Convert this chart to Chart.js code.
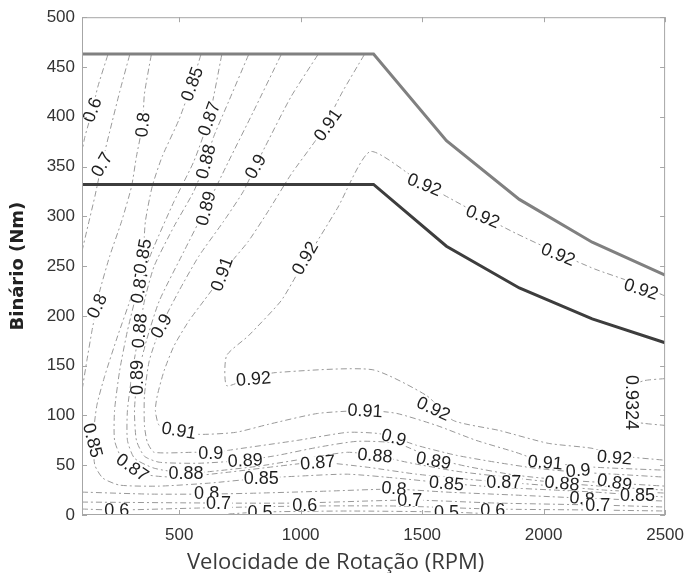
<!DOCTYPE html>
<html>
<head>
<meta charset="utf-8">
<script src="https://cdn.jsdelivr.net/npm/chart.js@4.4.1/dist/chart.umd.min.js"></script>
<style>
  html, body { margin: 0; padding: 0; background: #fff; }
  #wrap { width: 694px; height: 573px; }
</style>
</head>
<body>
<div id="wrap"><canvas id="effMap" width="694" height="573"></canvas></div>
<script>
// Efficiency map: contour lines of motor efficiency over speed (RPM) and torque (Nm),
// with the peak and rated torque envelopes on top.

const X_TICKS = [500, 1000, 1500, 2000, 2500];
const Y_TICKS = [0, 50, 100, 150, 200, 250, 300, 350, 400, 450, 500];

// torque envelopes [rpm, Nm]
const torquePeak  = [[100, 463], [1300, 463], [1600, 376], [1900, 317], [2200, 274], [2500, 241]];
const torqueRated = [[100, 332], [1300, 332], [1600, 270], [1900, 228], [2200, 197], [2500, 173]];

// contour paths [rpm, Nm]
const c0_9324 = [[2500, 137], [2415, 135], [2362, 129], [2362, 95], [2415, 92], [2500, 90]];
const c0_92 = [[2500, 220], [2374, 233], [2211, 247], [2060, 263], [1885, 283], [1750, 300], [1600, 320],
  [1490, 335], [1286, 365], [1151, 308], [988, 243], [919, 215], [785, 180], [695, 160], [695, 130],
  [785, 137], [895, 143], [1294, 146], [1518, 120], [1628, 95], [1816, 85], [2019, 72], [2199, 67],
  [2292, 60], [2500, 55]];
const c0_91 = [[1261, 462], [1172, 425], [1102, 392], [1058, 375], [960, 342], [866, 305], [785, 275],
  [711, 253], [662, 235], [601, 215], [540, 195], [479, 170], [438, 145], [410, 120], [402, 105],
  [418, 90], [499, 85], [581, 81], [732, 83], [866, 91], [1070, 102], [1274, 105], [1396, 102],
  [1559, 90], [1722, 75], [1885, 63], [2007, 53], [2211, 48], [2500, 45]];
const c0_90 = [[1070, 462], [960, 420], [854, 370], [813, 350], [764, 325], [683, 295], [581, 260],
  [499, 225], [426, 190], [377, 155], [357, 120], [357, 90], [369, 73], [397, 63], [569, 63], [630, 62],
  [703, 65], [988, 75], [1192, 83], [1314, 82], [1384, 78], [1477, 70], [1640, 60], [1803, 53],
  [1966, 47], [2142, 43], [2292, 41], [2500, 38]];
const c0_89 = [[919, 462], [805, 405], [703, 355], [609, 308], [520, 265], [418, 215], [365, 175],
  [328, 138], [316, 105], [324, 75], [357, 59], [418, 53], [581, 52], [772, 55], [907, 60], [1070, 68],
  [1233, 74], [1396, 72], [1547, 57], [1681, 49], [1885, 40], [2089, 35], [2292, 32], [2500, 29]];
const c0_88 = [[785, 462], [703, 415], [642, 380], [609, 355], [560, 325], [479, 290], [397, 250],
  [357, 215], [336, 185], [308, 145], [287, 105], [287, 75], [316, 57], [397, 47], [528, 42], [642, 44],
  [825, 49], [1029, 57], [1192, 63], [1306, 60], [1437, 53], [1640, 44], [1885, 37], [2076, 32],
  [2292, 28], [2500, 25]];
const c0_87 = [[675, 462], [622, 398], [560, 355], [479, 315], [397, 270], [336, 232], [287, 185],
  [255, 145], [234, 105], [234, 75], [263, 57], [308, 48], [377, 40], [499, 38], [703, 43], [907, 49],
  [1070, 53], [1274, 48], [1477, 41], [1681, 36], [1836, 33], [2048, 29], [2252, 25], [2500, 22]];
const c0_85 = [[589, 462], [552, 433], [499, 397], [430, 360], [389, 330], [361, 295], [349, 258],
  [304, 220], [247, 180], [194, 140], [161, 110], [145, 75], [153, 50], [186, 37], [255, 30], [418, 29],
  [622, 32], [838, 37], [988, 39], [1192, 41], [1396, 37], [1600, 32], [1803, 28], [2048, 25],
  [2211, 23], [2386, 20], [2500, 18]];
const c0_8a = [[385, 462], [357, 423], [349, 392], [324, 360], [304, 330], [263, 295], [214, 260],
  [173, 225], [161, 210], [141, 185], [120, 155], [100, 125]];
const c0_8b = [[100, 23], [377, 21], [613, 21], [825, 22], [1111, 24], [1384, 26], [1600, 23],
  [1885, 20], [2158, 17], [2500, 14]];
const c0_7a = [[296, 462], [255, 425], [214, 385], [181, 352], [153, 320], [124, 290], [100, 265]];
const c0_7b = [[100, 13], [654, 12], [988, 12], [1449, 15], [1803, 12], [2223, 10], [2500, 8]];
const c0_6a = [[206, 462], [165, 430], [141, 405], [112, 380], [100, 365]];
const c0_6b = [[100, 6], [243, 5], [581, 7], [1017, 9], [1396, 9], [1791, 6], [2211, 5], [2500, 4]];
const c0_5 = [[703, 1], [833, 3], [1192, 4], [1600, 3], [1803, 1]];

const contours = [
  [0.9324, c0_9324], [0.92, c0_92], [0.91, c0_91], [0.9, c0_90], [0.89, c0_89], [0.88, c0_88],
  [0.87, c0_87], [0.85, c0_85], [0.8, c0_8a], [0.8, c0_8b], [0.7, c0_7a], [0.7, c0_7b],
  [0.6, c0_6a], [0.6, c0_6b], [0.5, c0_5],
];

// inline labels: [level, rpm, Nm, angle in degrees]
const contourLabels = [
  [0.6, 141, 407, -70], [0.7, 181, 352, -60], [0.8, 349, 392, -85], [0.85, 552, 433, -70],
  [0.87, 622, 398, -70], [0.88, 609, 355, -75], [0.9, 813, 350, -60], [0.91, 1111, 392, -55],
  [0.89, 609, 308, -75], [0.92, 1017, 258, -60], [0.87, 336, 230, -80], [0.85, 349, 260, -80],
  [0.8, 161, 210, -65], [0.88, 336, 185, -85], [0.9, 426, 190, -60], [0.89, 328, 138, -90],
  [0.91, 675, 242, -70], [0.85, 145, 75, 75], [0.87, 308, 48, 35], [0.91, 499, 85, 10],
  [0.9, 630, 62, 0], [0.88, 528, 42, 0], [0.89, 772, 55, -3], [0.85, 838, 37, 0],
  [0.8, 613, 22, 0], [0.7, 662, 12, 0], [0.6, 243, 5, 0], [0.5, 833, 3, 0],
  [0.92, 806, 137, -5], [0.87, 1070, 53, -5], [0.6, 1017, 10, 0], [0.91, 1265, 105, 3],
  [0.9, 1384, 78, 15], [0.88, 1306, 60, 5], [0.8, 1384, 27, 5], [0.7, 1449, 15, 0],
  [0.92, 1547, 107, 25], [0.89, 1547, 55, 10], [0.85, 1600, 32, 5], [0.5, 1600, 3, 0],
  [0.87, 1836, 33, 0], [0.6, 1791, 5, 0], [0.91, 2007, 53, 5], [0.88, 2076, 32, 5],
  [0.9, 2142, 45, -5], [0.92, 2292, 58, 5], [0.8, 2158, 17, 5], [0.7, 2223, 10, 0],
  [0.89, 2292, 33, 10], [0.85, 2386, 20, 0], [0.9324, 2362, 113, 90],
  [0.92, 1510, 332, 22], [0.92, 1750, 300, 22], [0.92, 2060, 262, 22], [0.92, 2402, 227, 18],
];

const TICK_FONT = { family: "'Liberation Sans', Arial, sans-serif", size: 17 };
const toXY = pts => pts.map(([x, y]) => ({ x, y }));

const datasets = [
  { data: toXY(torqueRated), borderColor: "#3d3d3d", borderWidth: 3, tension: 0 },
  { data: toXY(torquePeak),  borderColor: "#808080", borderWidth: 3, tension: 0 },
  ...contours.map(([level, path]) => ({
    label: String(level),
    data: toXY(path),
    borderColor: "#999",
    borderWidth: 1,
    borderDash: [6, 3, 2, 3],
    tension: 0.2,
  })),
].map(d => ({ showLine: true, pointRadius: 0, fill: false, ...d }));

// ── inline contour labels (white box breaks the line underneath) ────────────
const labelPlugin = {
  id: "contourLabels",
  afterDatasetsDraw(chart) {
    const { ctx, chartArea: a, scales: { x, y } } = chart;
    ctx.save();
    ctx.beginPath();
    ctx.rect(a.left, a.top, a.width, a.height);
    ctx.clip();
    ctx.font = "18px 'Liberation Sans', Arial, sans-serif";
    ctx.textAlign = "center";
    ctx.textBaseline = "middle";
    contourLabels.forEach(([level, s, t, ang]) => {
      const txt = String(level);
      const w = ctx.measureText(txt).width;
      ctx.save();
      ctx.translate(x.getPixelForValue(s), y.getPixelForValue(t));
      ctx.rotate(ang * Math.PI / 180);
      ctx.fillStyle = "#fff";
      ctx.fillRect(-w / 2 - 1, -6, w + 2, 12);
      ctx.fillStyle = "#1e1e1e";
      ctx.fillText(txt, 0, 1);
      ctx.restore();
    });
    ctx.restore();
  },
};

// ── box frame with inward ticks, plus axis titles ───────────────────────────
const framePlugin = {
  id: "boxFrame",
  afterDraw(chart) {
    const { ctx, chartArea: a, scales: { x, y } } = chart;
    ctx.save();
    ctx.strokeStyle = "#a6a6a6";
    ctx.lineWidth = 1;
    ctx.strokeRect(a.left + 0.5, a.top + 0.5, a.width - 1, a.height - 1);
    ctx.beginPath();
    X_TICKS.forEach(v => {
      const px = Math.round(x.getPixelForValue(v)) + 0.5;
      ctx.moveTo(px, a.bottom); ctx.lineTo(px, a.bottom - 5);
      ctx.moveTo(px, a.top);    ctx.lineTo(px, a.top + 5);
    });
    Y_TICKS.forEach(v => {
      const py = Math.round(y.getPixelForValue(v)) + 0.5;
      ctx.moveTo(a.left, py);  ctx.lineTo(a.left + 5, py);
      ctx.moveTo(a.right, py); ctx.lineTo(a.right - 5, py);
    });
    ctx.stroke();

    ctx.fillStyle = "#222";
    ctx.font = "bold 18px 'DejaVu Sans', sans-serif";
    ctx.textAlign = "center";
    ctx.textBaseline = "middle";
    ctx.translate(18, (a.top + a.bottom) / 2);
    ctx.rotate(-Math.PI / 2);
    ctx.fillText("Binário (Nm)", 0, 0);
    ctx.setTransform(1, 0, 0, 1, 0, 0);

    ctx.fillStyle = "#3a3a3a";
    ctx.font = "22px 'Open Sans', sans-serif";
    ctx.textAlign = "left";
    ctx.textBaseline = "alphabetic";
    ctx.fillText("Velocidade de Rotação (RPM)", 187, 569);
    ctx.restore();
  },
};

new Chart(document.getElementById("effMap"), {
  type: "scatter",
  data: { datasets },
  options: {
    responsive: false,
    devicePixelRatio: 1,
    animation: false,
    layout: { padding: { top: 16, right: 23, left: 0, bottom: 0 } },
    plugins: { legend: { display: false }, tooltip: { enabled: false } },
    scales: {
      x: {
        type: "linear",
        min: 100,
        max: 2500,
        afterBuildTicks: s => { s.ticks = X_TICKS.map(v => ({ value: v })); },
        afterFit: s => { s.height = 58; },
        grid: { display: false, drawTicks: false },
        border: { display: false },
        ticks: { font: TICK_FONT, color: "#333", padding: 10, maxRotation: 0, callback: v => String(v) },
      },
      y: {
        type: "linear",
        min: 0,
        max: 500,
        afterBuildTicks: s => { s.ticks = Y_TICKS.map(v => ({ value: v })); },
        afterFit: s => { s.width = 82; },
        grid: { display: false, drawTicks: false },
        border: { display: false },
        ticks: { font: TICK_FONT, color: "#333", padding: 7, callback: v => String(v) },
      },
    },
  },
  plugins: [labelPlugin, framePlugin],
});
</script>
</body>
</html>
